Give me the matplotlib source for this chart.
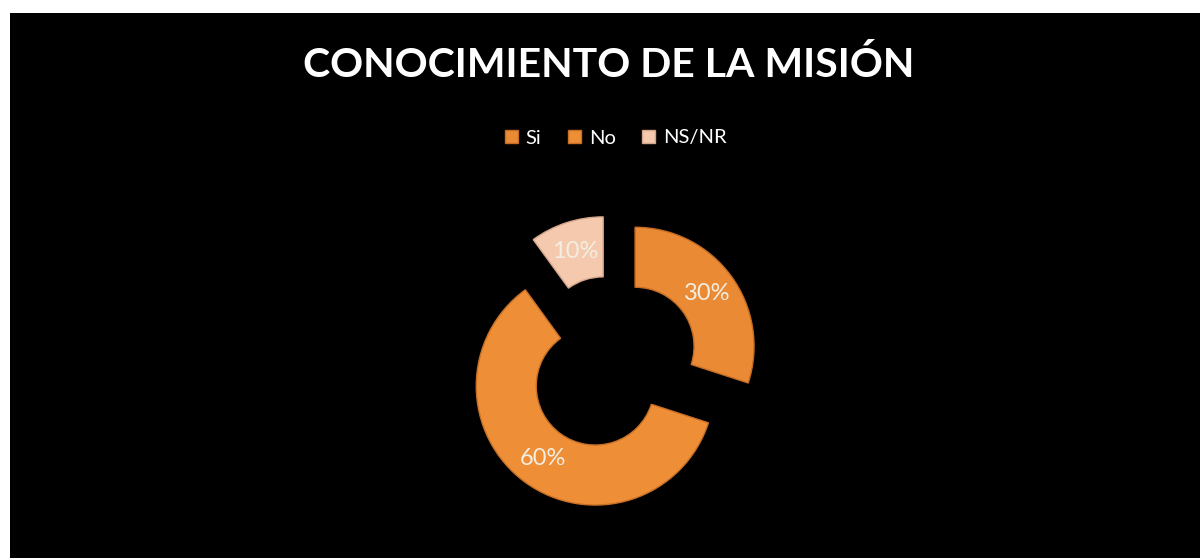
import matplotlib
matplotlib.use("Agg")
import matplotlib.pyplot as plt
from matplotlib.patches import Rectangle
import numpy as np

# Chart data
categories = ["Si", "No", "NS/NR"]
values = [30, 60, 10]
labels_pct = ["30%", "60%", "10%"]

colors = ["#EA8A34", "#EE8E37", "#F4C9AE"]
edge_colors = ["#C46C24", "#C87026", "#D4A58A"]

W, H = 1200, 558
fig = plt.figure(figsize=(W / 100, H / 100), dpi=100, facecolor="white")
ax = fig.add_axes([0, 0, 1, 1])

# Black chart area (thin white margin on left and top)
ax.add_patch(Rectangle((10, 0), W - 10, H - 13, facecolor="black",
                       edgecolor="none", zorder=0))

radius = 119
center = (612, H - 363)
wedges, _ = ax.pie(
    values,
    radius=radius,
    center=center,
    startangle=90,
    counterclock=False,
    explode=[28.5] * len(values),
    colors=colors,
    wedgeprops=dict(width=60, linewidth=1.0),
)
for w, ec in zip(wedges, edge_colors):
    w.set_edgecolor(ec)
    w.set_zorder(2)

# Percentage labels on the middle of each ring segment
mid_r = radius - 30
for w, txt in zip(wedges, labels_pct):
    ang = np.deg2rad((w.theta1 + w.theta2) / 2)
    cx, cy = w.center
    ax.text(cx + mid_r * np.cos(ang), cy + mid_r * np.sin(ang), txt,
            ha="center", va="center", fontsize=17, color="#F3EEE2",
            family="Lato", zorder=3)

ax.set_xlim(0, W)
ax.set_ylim(0, H)
ax.set_aspect("equal")
ax.axis("off")

fig.text(0.507, 1 - 65 / H, "CONOCIMIENTO DE LA MISIÓN", ha="center",
         va="center", fontsize=29.5, fontweight="bold", color="white",
         family="Lato")

fig.legend(wedges, categories, loc="center", ncol=3,
           bbox_to_anchor=(0.513, 1 - 138 / H), frameon=False,
           labelcolor="white", handlelength=0.65, handleheight=0.65,
           handletextpad=0.4, columnspacing=1.3,
           prop={"family": "Lato", "size": 14.5})

fig.savefig("out.png", dpi=100, facecolor="white")
